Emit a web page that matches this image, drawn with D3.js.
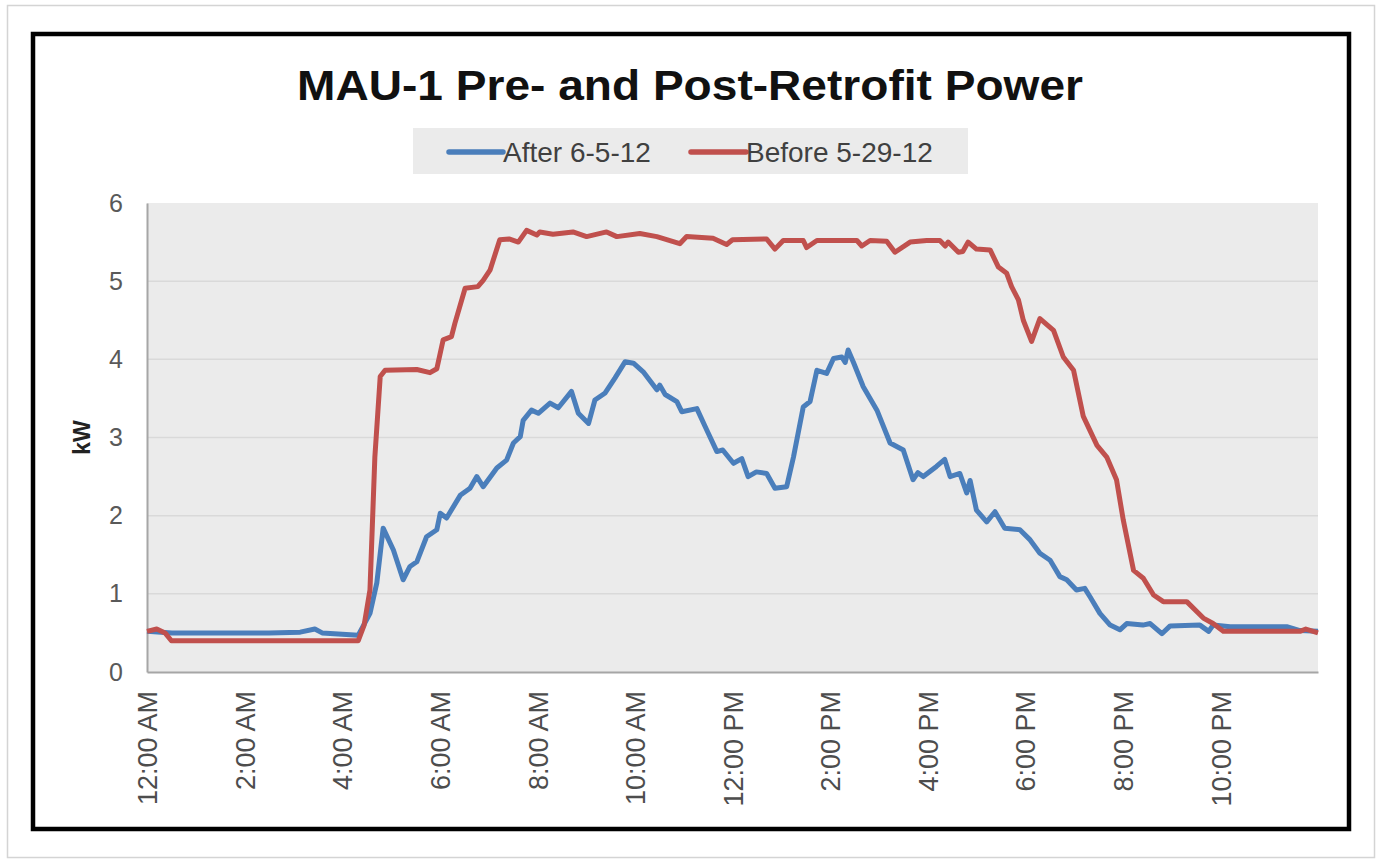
<!DOCTYPE html>
<html>
<head>
<meta charset="utf-8">
<script src="https://cdn.jsdelivr.net/npm/d3@7"></script>
<style>
  html, body { margin: 0; padding: 0; background: #ffffff; }
  svg { display: block; font-family: "Liberation Sans", Arial, sans-serif; }
</style>
</head>
<body>
<svg id="chart" width="1380" height="861"></svg>
<script>
// ---- Data (hours since midnight, kW) ----
const chartTitle = "MAU-1 Pre- and Post-Retrofit Power";
const seriesNames = ["After 6-5-12", "Before 5-29-12"];
const yTicks = [0, 1, 2, 3, 4, 5, 6];
const xTickHours = [0, 2, 4, 6, 8, 10, 12, 14, 16, 18, 20, 22];
const xTickLabels = ["12:00 AM", "2:00 AM", "4:00 AM", "6:00 AM", "8:00 AM", "10:00 AM",
                     "12:00 PM", "2:00 PM", "4:00 PM", "6:00 PM", "8:00 PM", "10:00 PM"];

const afterHours = [0, 0.51, 1.5, 2.5, 3.14, 3.44, 3.59, 4.33, 4.57, 4.71, 4.84, 5.05, 5.25, 5.39, 5.53,
  5.73, 5.94, 6.01, 6.14, 6.42, 6.62, 6.76, 6.89, 7.17, 7.37, 7.51, 7.65, 7.71, 7.88, 8.02, 8.26,
  8.43, 8.7, 8.84, 9.05, 9.18, 9.39, 9.59, 9.8, 9.97, 10.17, 10.45, 10.51, 10.62, 10.86, 10.96,
  11.27, 11.47, 11.68, 11.8, 12.02, 12.19, 12.32, 12.49, 12.7, 12.87, 13.11, 13.25, 13.45, 13.59,
  13.73, 13.93, 14.07, 14.24, 14.31, 14.37, 14.48, 14.68, 14.96, 15.23, 15.5, 15.7, 15.8, 15.91,
  16.18, 16.35, 16.46, 16.66, 16.8, 16.87, 17.0, 17.21, 17.38, 17.58, 17.89, 18.1, 18.3, 18.51,
  18.71, 18.85, 19.05, 19.22, 19.33, 19.53, 19.74, 19.94, 20.08, 20.41, 20.56, 20.8, 20.97, 21.58,
  21.76, 21.85, 22.2, 23.36, 23.63, 24.0];
const afterKW = [0.52, 0.50, 0.50, 0.50, 0.51, 0.55, 0.50, 0.47, 0.75, 1.14, 1.84, 1.56, 1.18, 1.35, 1.41,
  1.73, 1.82, 2.03, 1.97, 2.26, 2.35, 2.50, 2.37, 2.61, 2.71, 2.93, 3.01, 3.22, 3.35, 3.31, 3.44,
  3.38, 3.59, 3.31, 3.18, 3.48, 3.57, 3.76, 3.97, 3.95, 3.84, 3.61, 3.67, 3.55, 3.46, 3.33,
  3.37, 3.10, 2.82, 2.84, 2.67, 2.73, 2.50, 2.56, 2.54, 2.35, 2.37, 2.75, 3.39, 3.46,
  3.86, 3.82, 4.01, 4.03, 3.96, 4.12, 3.96, 3.65, 3.35, 2.93, 2.84, 2.46, 2.55, 2.50,
  2.63, 2.72, 2.50, 2.54, 2.29, 2.45, 2.07, 1.92, 2.05, 1.84, 1.82, 1.69, 1.52, 1.43,
  1.22, 1.18, 1.05, 1.07, 0.96, 0.75, 0.60, 0.54, 0.62, 0.60, 0.62, 0.49, 0.59, 0.60,
  0.52, 0.60, 0.58, 0.58, 0.53, 0.52];

const beforeHours = [0, 0.2, 0.37, 0.5, 1.5, 2.5, 3.5, 4.33, 4.45, 4.57, 4.67, 4.78, 4.88, 5.53, 5.8, 5.94,
  6.07, 6.24, 6.31, 6.52, 6.78, 6.89, 7.03, 7.23, 7.42, 7.61, 7.78, 7.99, 8.05, 8.32, 8.73, 9.01,
  9.42, 9.63, 10.1, 10.45, 10.92, 11.06, 11.6, 11.88, 12.0, 12.7, 12.87, 13.04, 13.45, 13.52, 13.73,
  14.55, 14.65, 14.82, 15.16, 15.33, 15.64, 15.98, 16.25, 16.36, 16.42, 16.63, 16.72, 16.83, 17.0,
  17.28, 17.45, 17.62, 17.72, 17.86, 17.96, 18.13, 18.3, 18.58, 18.78, 18.99, 19.19, 19.47, 19.67,
  19.87, 20.01, 20.22, 20.42, 20.63, 20.83, 21.31, 21.65, 21.85, 22.06, 23.0, 23.63, 23.75, 24.0];
const beforeKW = [0.52, 0.55, 0.50, 0.40, 0.40, 0.40, 0.40, 0.40, 0.60, 1.05, 2.75, 3.78, 3.86, 3.87, 3.83, 3.88,
  4.25, 4.29, 4.46, 4.91, 4.93, 5.01, 5.14, 5.53, 5.54, 5.50, 5.65, 5.59, 5.63, 5.60, 5.63, 5.57,
  5.63, 5.57, 5.61, 5.57, 5.48, 5.57, 5.55, 5.47, 5.53, 5.54, 5.41, 5.52, 5.52, 5.43, 5.52,
  5.52, 5.45, 5.52, 5.51, 5.37, 5.50, 5.52, 5.52, 5.45, 5.50, 5.37, 5.38, 5.50, 5.41,
  5.40, 5.18, 5.10, 4.93, 4.76, 4.50, 4.23, 4.52, 4.37, 4.03, 3.86, 3.27, 2.90, 2.75,
  2.46, 1.94, 1.30, 1.20, 0.985, 0.90, 0.90, 0.69, 0.62, 0.52, 0.52, 0.52, 0.55, 0.50];

// ---- Layout ----
const svg = d3.select("#chart");
const plot = { left: 147, right: 1318, top: 203, bottom: 672 };
const blue = "#4a7ebb", red = "#c0504d";

// outer card and black frame
svg.append("rect").attr("x", 7.5).attr("y", 5.5).attr("width", 1367).attr("height", 852)
  .attr("fill", "#ffffff").attr("stroke", "#d4d4d4").attr("stroke-width", 1.5);
svg.append("rect").attr("x", 33).attr("y", 34).attr("width", 1316).attr("height", 795)
  .attr("fill", "#ffffff").attr("stroke", "#000000").attr("stroke-width", 4.5);

const x = d3.scaleLinear().domain([0, 24]).range([plot.left, plot.right]);
const y = d3.scaleLinear().domain([0, 6]).range([plot.bottom, plot.top]);

// plot background
svg.append("rect").attr("x", plot.left).attr("y", plot.top)
  .attr("width", plot.right - plot.left).attr("height", plot.bottom - plot.top)
  .attr("fill", "#ebebeb");

// gridlines
svg.append("g").selectAll("line").data(yTicks.filter(d => d > 0 && d < 6)).join("line")
  .attr("x1", plot.left).attr("x2", plot.right)
  .attr("y1", d => y(d)).attr("y2", d => y(d))
  .attr("stroke", "#d9d9d9").attr("stroke-width", 1.5);

// title
svg.append("text").attr("x", 690).attr("y", 100).attr("text-anchor", "middle")
  .attr("font-size", 43).attr("font-weight", "bold").attr("fill", "#111")
  .attr("textLength", 786).attr("lengthAdjust", "spacingAndGlyphs")
  .text(chartTitle);

// legend
const lg = svg.append("g");
lg.append("rect").attr("x", 413).attr("y", 128).attr("width", 555).attr("height", 46).attr("fill", "#ebebeb");
const legendItems = [
  { name: seriesNames[0], color: blue, x0: 449, x1: 503 },
  { name: seriesNames[1], color: red, x0: 691, x1: 746 }
];
legendItems.forEach(it => {
  lg.append("line").attr("x1", it.x0).attr("x2", it.x1).attr("y1", 152).attr("y2", 152)
    .attr("stroke", it.color).attr("stroke-width", 5.5).attr("stroke-linecap", "round");
  lg.append("text").attr("x", it.x1).attr("y", 162).attr("font-size", 28).attr("fill", "#404040")
    .text(it.name);
});

// axes
const yAxis = svg.append("g").attr("transform", `translate(${plot.left},0)`)
  .call(d3.axisLeft(y).tickValues(yTicks).tickSize(0).tickSizeOuter(0).tickPadding(24).tickFormat(d3.format("d")));
yAxis.select(".domain").attr("stroke", "#a6a6a6").attr("stroke-width", 2);
yAxis.selectAll("text").attr("font-size", 25).attr("fill", "#595959")
  .attr("font-family", "'Liberation Sans', Arial, sans-serif");

const xAxis = svg.append("g").attr("transform", `translate(0,${plot.bottom})`)
  .call(d3.axisBottom(x).tickValues(xTickHours).tickSize(0).tickSizeOuter(0)
    .tickFormat((d, i) => xTickLabels[i]));
xAxis.select(".domain").attr("stroke", "#a6a6a6").attr("stroke-width", 2);
xAxis.selectAll("text")
  .attr("transform", "rotate(-90)")
  .attr("text-anchor", "end")
  .attr("x", -19).attr("y", 0).attr("dy", "0.36em")
  .attr("font-size", 27).attr("fill", "#4d4d4d")
  .attr("font-family", "'Liberation Sans', Arial, sans-serif");

// y axis title
svg.append("text").attr("transform", `translate(90,${(plot.top + plot.bottom) / 2}) rotate(-90)`)
  .attr("text-anchor", "middle").attr("font-size", 23).attr("font-weight", "bold").attr("fill", "#222")
  .text("kW");

// lines
const line = d3.line().x(d => x(d[0])).y(d => y(d[1])).curve(d3.curveLinear);
const afterData = afterHours.map((h, i) => [h, afterKW[i]]);
const beforeData = beforeHours.map((h, i) => [h, beforeKW[i]]);

svg.append("path").datum(afterData).attr("d", line).attr("fill", "none")
  .attr("stroke", blue).attr("stroke-width", 5).attr("stroke-linejoin", "round");
svg.append("path").datum(beforeData).attr("d", line).attr("fill", "none")
  .attr("stroke", red).attr("stroke-width", 5).attr("stroke-linejoin", "round");
</script>
</body>
</html>
